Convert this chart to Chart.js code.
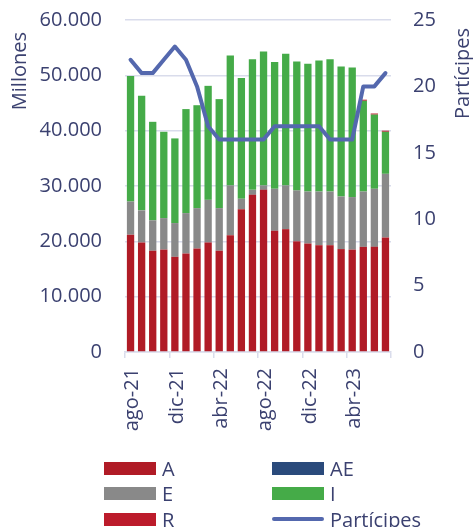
<!DOCTYPE html>
<html>
<head>
<meta charset="utf-8">
<script src="https://cdn.jsdelivr.net/npm/chart.js@4.4.1/dist/chart.umd.min.js"></script>
<style>
    body { margin: 0; background: #fff; }
    #wrap { position: relative; width: 473px; height: 527px; }
    #leyenda { position: absolute; left: 0; top: 0; width: 473px; height: 527px; pointer-events: none; font: 20px 'Open Sans'; color: #3B4170; }
    .item { position: absolute; height: 24px; display: flex; align-items: center; white-space: nowrap; }
    .caja { width: 52px; height: 13px; margin-right: 6px; }
    .linea { width: 52px; height: 4px; border-radius: 2px; margin-right: 6px; }
</style>
</head>
<body>
<div id="wrap">
    <canvas id="grafica"></canvas>
    <div id="leyenda"></div>
</div>
<script>
const meses = ['ago-21', 'sep-21', 'oct-21', 'nov-21', 'dic-21', 'ene-22', 'feb-22', 'mar-22', 'abr-22', 'may-22', 'jun-22', 'jul-22',
    'ago-22', 'sep-22', 'oct-22', 'nov-22', 'dic-22', 'ene-23', 'feb-23', 'mar-23', 'abr-23', 'may-23', 'jun-23', 'jul-23']

// millones, apilados
const serieA = [21200, 19800, 18300, 18500, 17200, 17800, 18700, 19800, 18300, 21100, 25800, 28400, 29300, 21900, 22200, 20000, 19600, 19300, 19300, 18600, 18500, 19000, 19000, 20700]
const serieAE = [0, 0, 0, 0, 0, 0, 0, 0, 0, 0, 0, 0, 0, 0, 0, 0, 0, 0, 0, 0, 0, 0, 0, 0]
const serieE = [6000, 5800, 5500, 5700, 6100, 7300, 7300, 7700, 7700, 9000, 1900, 900, 800, 7600, 7900, 9200, 9400, 9700, 9700, 9500, 9500, 10000, 10500, 11500]
const serieI = [22700, 20700, 17800, 15600, 15300, 18800, 18600, 20600, 19700, 23500, 21800, 23600, 24200, 22900, 23800, 23300, 23100, 23700, 23900, 23500, 23400, 16400, 13400, 7600]
const serieR = [0, 0, 0, 0, 0, 0, 0, 0, 0, 0, 0, 0, 0, 0, 0, 0, 0, 0, 0, 0, 0, 200, 200, 200]

// eje derecho
const participes = [22, 21, 21, 22, 23, 22, 20, 17, 16, 16, 16, 16, 16, 17, 17, 17, 17, 17, 16, 16, 16, 20, 20, 21]

const colorTexto = '#3B4170'
const colorRejilla = '#D9DCEB'
const fuente = { family: 'Open Sans', size: 20 }

const miles = v => String(v).replace(/\B(?=(\d{3})+(?!\d))/g, '.')

//? titulos de los ejes (leidos de abajo hacia arriba)
const titulosEjes = {
    id: 'titulosEjes',
    afterDraw(chart) {
        const ctx = chart.ctx
        ctx.save()
        ctx.font = '20px "Open Sans"'
        ctx.fillStyle = colorTexto
        ctx.textAlign = 'right'
        ctx.textBaseline = 'middle'
        ctx.save()
        ctx.translate(20, 32)
        ctx.rotate(-Math.PI / 2)
        ctx.fillText('Millones', 0, 0)
        ctx.restore()
        ctx.translate(463, 28)
        ctx.rotate(-Math.PI / 2)
        ctx.fillText('Partícipes', 0, 0)
        ctx.restore()
    }
}

const datos = {
    labels: meses,
    datasets: [
        { type: 'line', label: 'Partícipes', data: participes, yAxisID: 'y1', order: 0, borderColor: '#5468AE', backgroundColor: '#5468AE', borderWidth: 4, pointRadius: 0, tension: 0, borderJoinStyle: 'round', borderCapStyle: 'round' },
        { type: 'bar', label: 'A', data: serieA, backgroundColor: '#B01B26', order: 1 },
        { type: 'bar', label: 'AE', data: serieAE, backgroundColor: '#2A4A7B', order: 1 },
        { type: 'bar', label: 'E', data: serieE, backgroundColor: '#898989', order: 1 },
        { type: 'bar', label: 'I', data: serieI, backgroundColor: '#45AB48', order: 1 },
        { type: 'bar', label: 'R', data: serieR, backgroundColor: '#BC1B2B', order: 1 }
    ]
}

const opciones = {
    responsive: true,
    maintainAspectRatio: false,
    animation: false,
    layout: { padding: { top: 20, left: 0, right: 0, bottom: 0 } },
    datasets: { bar: { barPercentage: 0.66, categoryPercentage: 1, borderWidth: 0 } },
    plugins: { legend: { display: false }, tooltip: { enabled: false } },
    scales: {
        x: {
            stacked: true,
            afterFit: s => { s.height = 175 },
            grid: {
                drawOnChartArea: false,
                tickLength: 6,
                lineWidth: 1.5,
                color: c => (c.index === undefined || c.index % 4 === 0) ? colorRejilla : 'rgba(0,0,0,0)'
            },
            border: { color: colorRejilla, width: 1.5 },
            ticks: {
                autoSkip: false,
                minRotation: 90,
                maxRotation: 90,
                padding: 10,
                labelOffset: 2,
                color: colorTexto,
                font: fuente,
                callback: (v, i) => i % 4 === 0 ? meses[i] : ''
            }
        },
        y: {
            stacked: true,
            min: 0,
            max: 60000,
            afterFit: s => { s.width = 125 },
            grid: { color: colorRejilla, lineWidth: 1.5, tickLength: 20, tickColor: 'rgba(0,0,0,0)' },
            border: { display: false },
            ticks: { stepSize: 10000, padding: 3, color: colorTexto, font: fuente, callback: v => miles(v) }
        },
        y1: {
            position: 'right',
            min: 0,
            max: 25,
            afterFit: s => { s.width = 82 },
            grid: { drawOnChartArea: false, tickLength: 19, tickColor: 'rgba(0,0,0,0)' },
            border: { display: false },
            ticks: { stepSize: 5, padding: 3, color: colorTexto, font: fuente }
        }
    }
}

const grafica = new Chart(document.getElementById('grafica'), {
    data: datos,
    options: opciones,
    plugins: [titulosEjes]
})

//? leyenda en dos columnas
const leyenda = document.getElementById('leyenda')
const orden = [1, 2, 3, 4, 5, 0]
orden.forEach((idx, n) => {
    const ds = datos.datasets[idx]
    const item = document.createElement('div')
    item.className = 'item'
    item.style.left = (n % 2 === 0 ? 104 : 272) + 'px'
    item.style.top = ([468, 493, 519][Math.floor(n / 2)] - 12) + 'px'
    const marca = document.createElement('span')
    marca.className = ds.type === 'line' ? 'linea' : 'caja'
    marca.style.background = ds.backgroundColor
    item.appendChild(marca)
    item.appendChild(document.createTextNode(ds.label))
    leyenda.appendChild(item)
})
</script>
</body>
</html>
